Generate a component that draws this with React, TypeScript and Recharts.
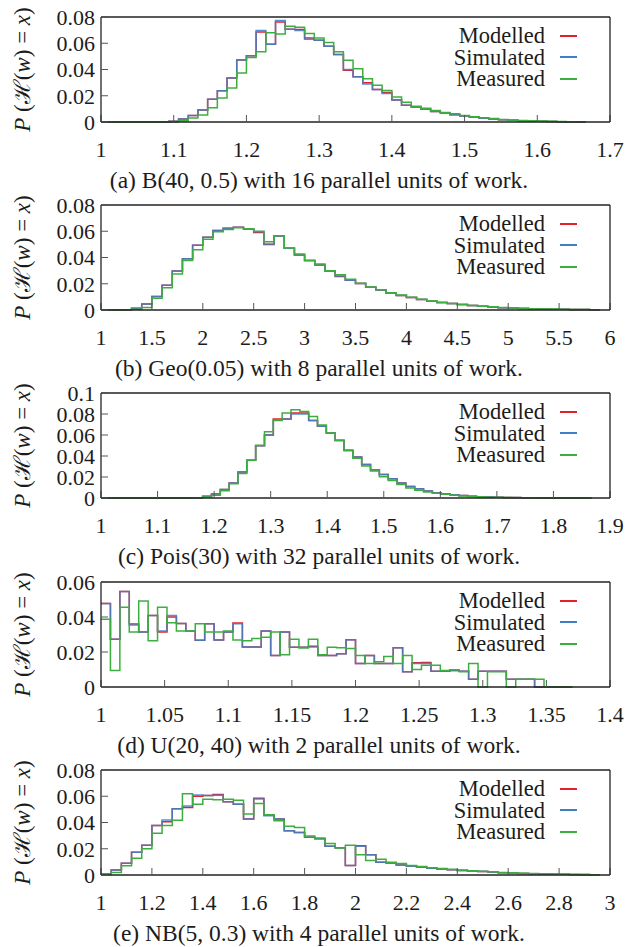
import { LineChart, Line, XAxis, YAxis, Legend } from 'recharts';

const FONT = "'Liberation Serif', 'DejaVu Serif', 'Times New Roman', Times, serif";
const INK = '#1c1c1c';
const RED = '#e3202b';
const BLUE = '#3f7fc6';
const GREEN = '#3cae3f';
const SERIES_ORDER = ['Modelled', 'Simulated', 'Measured'];

// (a) B(40, 0.5), 16 parallel units — bins of 1/75 starting at 1
const aBinStart = 1;
const aBinWidth = 1 / 75;
const aSimulated = [
  0, 0, 0, 0, 0, 0, 0, 0.0005, 0.0023, 0.0049, 0.0092, 0.0174, 0.0238, 0.0336, 0.0472, 0.0505,
  0.0697, 0.0592, 0.0774, 0.0706, 0.0698, 0.063, 0.0622, 0.0577, 0.0515, 0.04, 0.0345, 0.029,
  0.0248, 0.0218, 0.0168, 0.0128, 0.0115, 0.0098, 0.008, 0.0068, 0.0056, 0.0045, 0.0036, 0.0028,
  0.0022, 0.0017, 0.0013, 0.001, 0.0007, 0.0005, 0.0003, 0.0002, 0.0001, 0,
];
const aModelled = [
  0, 0, 0, 0, 0, 0, 0, 0.0005, 0.0023, 0.0049, 0.0092, 0.0174, 0.0238, 0.0336, 0.0472, 0.0505,
  0.0685, 0.0592, 0.0762, 0.0706, 0.0705, 0.064, 0.0622, 0.0577, 0.0515, 0.0395, 0.0345, 0.03,
  0.0248, 0.0225, 0.0168, 0.0128, 0.0115, 0.01, 0.008, 0.0068, 0.0056, 0.0045, 0.0036, 0.0028,
  0.0022, 0.0017, 0.0013, 0.001, 0.0007, 0.0005, 0.0003, 0.0002, 0.0001, 0,
];
const aMeasured = [
  0, 0, 0, 0, 0, 0, 0, 0, 0.001, 0.003, 0.0054, 0.0108, 0.0182, 0.026, 0.0374, 0.0492, 0.0536,
  0.068, 0.067, 0.073, 0.0722, 0.0675, 0.064, 0.0605, 0.0535, 0.047, 0.0405, 0.033, 0.028, 0.024,
  0.019, 0.015, 0.012, 0.0105, 0.0088, 0.0072, 0.0062, 0.005, 0.004, 0.0032, 0.0026, 0.002,
  0.0016, 0.0012, 0.0009, 0.0007, 0.0005, 0.0003, 0.0002, 0.0001,
];
const aXTicks = [1, 1.1, 1.2, 1.3, 1.4, 1.5, 1.6, 1.7];
const aYTicks = [0, 0.02, 0.04, 0.06, 0.08];

// (b) Geo(0.05), 8 parallel units — bins of 0.1
const bBinStart = 1;
const bBinWidth = 0.1;
const bSimulated = [
  0, 0, 0.0002, 0.0013, 0.0045, 0.0103, 0.0188, 0.0297, 0.039, 0.0493, 0.0555, 0.0606, 0.0622,
  0.063, 0.0617, 0.0596, 0.0503, 0.0563, 0.047, 0.042, 0.0377, 0.0343, 0.0297, 0.026, 0.0227,
  0.0201, 0.0173, 0.0152, 0.0129, 0.0111, 0.0095, 0.008, 0.0067, 0.0057, 0.0049, 0.0041, 0.0034,
  0.0028, 0.0023, 0.0018, 0.0015, 0.0012, 0.001, 0.0008, 0.0006, 0.0005, 0.0004, 0.0003, 0.0002,
];
const bModelled = [
  0, 0, 0.0002, 0.0013, 0.0045, 0.0103, 0.0188, 0.0297, 0.039, 0.0493, 0.0555, 0.0606, 0.0622,
  0.063, 0.0617, 0.059, 0.05, 0.0563, 0.047, 0.042, 0.0377, 0.0343, 0.0297, 0.0255, 0.0227,
  0.0201, 0.0173, 0.0152, 0.0129, 0.0111, 0.0095, 0.008, 0.0067, 0.0057, 0.0049, 0.0041, 0.0034,
  0.0028, 0.0023, 0.0018, 0.0015, 0.0012, 0.001, 0.0008, 0.0006, 0.0005, 0.0004, 0.0003, 0.0002,
];
const bMeasured = [
  0, 0, 0, 0.0005, 0.002, 0.009, 0.017, 0.0274, 0.0377, 0.046, 0.054, 0.0596, 0.0614, 0.0627,
  0.062, 0.06, 0.052, 0.0565, 0.0472, 0.0426, 0.0377, 0.035, 0.03, 0.0268, 0.0235, 0.0204,
  0.0175, 0.0155, 0.0132, 0.0114, 0.0098, 0.0082, 0.0069, 0.0058, 0.005, 0.0042, 0.0035, 0.0029,
  0.0024, 0.0019, 0.0016, 0.0013, 0.001, 0.0008, 0.0007, 0.0005, 0.0004, 0.0003, 0.0002,
];
const bXTicks = [1, 1.5, 2, 2.5, 3, 3.5, 4, 4.5, 5, 5.5, 6];
const bYTicks = [0, 0.02, 0.04, 0.06, 0.08];

// (c) Pois(30), 32 parallel units — bins of 1/64 centred on k/64
const cBinStart = 1 - 0.5 / 64;
const cBinWidth = 1 / 64;
const cSimulated = [
  0, 0, 0, 0, 0, 0, 0, 0, 0, 0, 0, 0.0003, 0.0016, 0.0038, 0.008, 0.0144, 0.0247, 0.0359, 0.0497,
  0.06, 0.0744, 0.0753, 0.08, 0.08, 0.0737, 0.0683, 0.0619, 0.0551, 0.0455, 0.0391, 0.032,
  0.0266, 0.0224, 0.0183, 0.0144, 0.0109, 0.0087, 0.0067, 0.0051, 0.004, 0.003, 0.0023, 0.0017,
  0.0013, 0.001, 0.0007, 0.0005, 0.0004, 0.0003, 0.0002, 0.0002, 0.0001, 0.0001, 0.0001, 0, 0,
];
const cModelled = [
  0, 0, 0, 0, 0, 0, 0, 0, 0, 0, 0, 0.0003, 0.0016, 0.0038, 0.008, 0.0144, 0.0247, 0.0359, 0.0497,
  0.06, 0.0753, 0.0753, 0.081, 0.081, 0.0737, 0.0683, 0.0619, 0.0551, 0.0455, 0.0391, 0.032,
  0.0266, 0.0224, 0.0183, 0.0144, 0.0109, 0.0087, 0.0067, 0.0051, 0.004, 0.003, 0.0023, 0.0017,
  0.0013, 0.001, 0.0007, 0.0005, 0.0004, 0.0003, 0.0002, 0.0002, 0.0001, 0.0001, 0.0001, 0, 0,
];
const cMeasured = [
  0, 0, 0, 0, 0, 0, 0, 0, 0, 0, 0, 0.0002, 0.001, 0.0026, 0.007, 0.0135, 0.0234, 0.0359, 0.0503,
  0.063, 0.0737, 0.081, 0.084, 0.0824, 0.0776, 0.0696, 0.0619, 0.0545, 0.0449, 0.0378, 0.0304,
  0.0256, 0.0202, 0.0167, 0.0128, 0.0096, 0.0074, 0.0058, 0.0045, 0.0035, 0.0026, 0.002, 0.0015,
  0.0011, 0.0008, 0.0006, 0.0004, 0.0003, 0.0002, 0.0002, 0.0001, 0.0001, 0.0001, 0, 0, 0,
];
const cXTicks = [1, 1.1, 1.2, 1.3, 1.4, 1.5, 1.6, 1.7, 1.8, 1.9];
const cYTicks = [0, 0.02, 0.04, 0.06, 0.08, 0.1];

// (d) U(20, 40), 2 parallel units — bins of 1/135
const dBinStart = 1;
const dBinWidth = 1 / 135;
const dSimulated = [
  0.0477, 0.0273, 0.0546, 0.0354, 0.0315, 0.0408, 0.032, 0.0408, 0.0363, 0.032, 0.0267, 0.0362,
  0.0269, 0.0315, 0.0362, 0.0229, 0.0229, 0.032, 0.018, 0.0315, 0.0227, 0.0227, 0.0229, 0.018,
  0.018, 0.019, 0.027, 0.0135, 0.018, 0.0135, 0.0135, 0.0225, 0.0087, 0.0135, 0.0135, 0.009,
  0.009, 0.0094, 0.009, 0.0045, 0.009, 0.009, 0.009, 0.0045, 0.0045, 0.0045, 0, 0, 0, 0,
];
const dModelled = [
  0.0477, 0.0273, 0.0546, 0.036, 0.0315, 0.0408, 0.0315, 0.04, 0.0363, 0.032, 0.0267, 0.0362,
  0.0269, 0.0315, 0.0366, 0.0229, 0.0229, 0.032, 0.018, 0.0315, 0.0227, 0.0227, 0.0233, 0.018,
  0.018, 0.019, 0.027, 0.0135, 0.018, 0.0135, 0.0135, 0.0225, 0.0087, 0.0138, 0.014, 0.009,
  0.009, 0.0094, 0.009, 0.0045, 0.009, 0.009, 0.009, 0.0045, 0.0045, 0.0045, 0, 0, 0, 0,
];
const dMeasured = [
  0.0387, 0.0094, 0.0456, 0.0315, 0.0492, 0.0265, 0.0456, 0.0367, 0.032, 0.032, 0.0362, 0.0315,
  0.0315, 0.032, 0.0269, 0.0265, 0.0277, 0.0285, 0.0315, 0.0185, 0.0273, 0.0223, 0.0273, 0.0185,
  0.0227, 0.0225, 0.022, 0.018, 0.0135, 0.0145, 0.0175, 0.0135, 0.018, 0.01, 0.0125, 0.0125,
  0.0094, 0.0098, 0.0087, 0.0135, 0, 0.0087, 0.0087, 0, 0.0045, 0.0045, 0.0045, 0, 0, 0,
];
const dXTicks = [1, 1.05, 1.1, 1.15, 1.2, 1.25, 1.3, 1.35, 1.4];
const dYTicks = [0, 0.02, 0.04, 0.06];

// (e) NB(5, 0.3), 4 parallel units — bins of 0.04
const eBinStart = 1;
const eBinWidth = 0.04;
const eSimulated = [
  0.0008, 0.0038, 0.009, 0.0174, 0.0226, 0.0377, 0.042, 0.0505, 0.0526, 0.061, 0.0605, 0.0608,
  0.0559, 0.054, 0.0426, 0.058, 0.0451, 0.0426, 0.0338, 0.0323, 0.0287, 0.0277, 0.022, 0.0208,
  0.0072, 0.022, 0.0154, 0.0097, 0.0092, 0.0077, 0.0067, 0.006, 0.0052, 0.0045, 0.004, 0.0035,
  0.003, 0.0026, 0.0022, 0.0018, 0.0015, 0.0012, 0.001, 0.0008, 0.0006, 0.0005, 0.0004, 0.0003,
  0.0002,
];
const eModelled = [
  0.0008, 0.0038, 0.009, 0.0174, 0.0226, 0.0377, 0.0405, 0.0505, 0.0515, 0.06, 0.0605, 0.0613,
  0.0559, 0.054, 0.0426, 0.0585, 0.0456, 0.0426, 0.0338, 0.0323, 0.0287, 0.0277, 0.022, 0.0208,
  0.0072, 0.0223, 0.0154, 0.0097, 0.0092, 0.0077, 0.0067, 0.006, 0.0052, 0.0045, 0.004, 0.0035,
  0.003, 0.0026, 0.0022, 0.0018, 0.0015, 0.0012, 0.001, 0.0008, 0.0006, 0.0005, 0.0004, 0.0003,
  0.0002,
];
const eMeasured = [
  0.0003, 0.002, 0.007, 0.0128, 0.02, 0.0318, 0.0377, 0.0418, 0.062, 0.054, 0.0577, 0.0574,
  0.0577, 0.057, 0.0464, 0.0544, 0.046, 0.0413, 0.0372, 0.0362, 0.0297, 0.0282, 0.024, 0.0205,
  0.0226, 0.0154, 0.011, 0.012, 0.0097, 0.0087, 0.0072, 0.0065, 0.0056, 0.005, 0.0044, 0.0038,
  0.0032, 0.0028, 0.0024, 0.002, 0.0017, 0.0014, 0.0011, 0.0009, 0.0007, 0.0005, 0.0004, 0.0002,
  0.0001,
];
const eXTicks = [1, 1.2, 1.4, 1.6, 1.8, 2, 2.2, 2.4, 2.6, 2.8, 3];
const eYTicks = [0, 0.02, 0.04, 0.06, 0.08];

const PLOT_H = 105;
const MARGIN_TOP = 16;

interface PanelProps {
  plotTop: number;
  binStart: number;
  binWidth: number;
  modelled: number[];
  simulated: number[];
  measured: number[];
  xDomain: [number, number];
  xTicks: number[];
  yDomain: [number, number];
  yTicks: number[];
  caption: string;
}

interface Row {
  x: number;
  modelled: number;
  simulated: number;
  measured: number;
}

// one row per bin edge; the closing edge repeats the last bin so stepAfter draws it
function buildRows(p: PanelProps): Row[] {
  const n = p.simulated.length;
  const rows: Row[] = [];
  for (let i = 0; i <= n; i++) {
    const j = Math.min(i, n - 1);
    rows.push({
      x: p.binStart + i * p.binWidth,
      modelled: p.modelled[j] ?? 0,
      simulated: p.simulated[j] ?? 0,
      measured: p.measured[j] ?? 0,
    });
  }
  return rows;
}

function YLabel(props: any) {
  const vb = props.viewBox ?? {};
  const cy = (vb.y ?? MARGIN_TOP + 1) + (vb.height ?? PLOT_H) / 2;
  return (
    <text
      x={22}
      y={cy}
      transform={`rotate(-90, 22, ${cy})`}
      textAnchor="middle"
      dominantBaseline="central"
      style={{ fontFamily: FONT }}
      fontSize={23}
      fill={INK}
    >
      <tspan fontStyle="italic">P</tspan>
      <tspan> (ℋ(</tspan>
      <tspan fontStyle="italic">w</tspan>
      <tspan>) = </tspan>
      <tspan fontStyle="italic">x</tspan>
      <tspan>)</tspan>
    </text>
  );
}

function renderLegend(props: any) {
  const items = [...(props.payload ?? [])].sort(
    (a: any, b: any) => SERIES_ORDER.indexOf(a.value) - SERIES_ORDER.indexOf(b.value),
  );
  return (
    <div style={{ fontFamily: FONT, fontSize: 22.5, color: INK }}>
      {items.map((it: any) => (
        <div
          key={it.value}
          style={{ display: 'flex', alignItems: 'center', justifyContent: 'flex-end', height: 21.5 }}
        >
          <div style={{ lineHeight: '21.5px', height: 21.5 }}>{it.value}</div>
          <div
            style={{
              width: 17,
              height: 0,
              borderTop: `2px solid ${it.color}`,
              marginLeft: 15,
            }}
          />
        </div>
      ))}
    </div>
  );
}

const tickStyle = { fontFamily: FONT, fontSize: 22, fill: INK, style: { fontFamily: FONT } };
const frame = { stroke: '#222', strokeWidth: 1.3 };
const tickMark = { stroke: '#555', strokeWidth: 1 };

function Panel(p: PanelProps) {
  const rows = buildRows(p);
  const fmt = (v: number) => String(v);
  return (
    <>
      <div style={{ position: 'absolute', left: 0, top: p.plotTop - MARGIN_TOP - 1 }}>
        <LineChart
          width={626}
          height={MARGIN_TOP + 1 + PLOT_H + 40}
          data={rows}
          margin={{ top: MARGIN_TOP, right: 15, bottom: 0, left: 41 }}
          style={{ fontFamily: FONT }}
        >
          <XAxis
            dataKey="x"
            type="number"
            domain={p.xDomain}
            ticks={p.xTicks}
            interval={0}
            allowDataOverflow
            height={40}
            tickFormatter={fmt}
            tick={tickStyle}
            tickSize={-7}
            tickMargin={26}
            axisLine={frame}
            tickLine={tickMark}
          />
          <XAxis
            xAxisId="top"
            orientation="top"
            type="number"
            domain={p.xDomain}
            ticks={p.xTicks}
            interval={0}
            allowDataOverflow
            height={1}
            tick={false}
            tickSize={-7}
            axisLine={frame}
            tickLine={tickMark}
          />
          <YAxis
            type="number"
            domain={p.yDomain}
            ticks={p.yTicks}
            interval={0}
            width={60}
            tickFormatter={fmt}
            tick={tickStyle}
            tickSize={-7}
            tickMargin={13}
            axisLine={frame}
            tickLine={tickMark}
            label={<YLabel />}
          />
          <YAxis
            yAxisId="right"
            orientation="right"
            type="number"
            domain={p.yDomain}
            ticks={p.yTicks}
            interval={0}
            width={1}
            tick={false}
            tickSize={-7}
            axisLine={frame}
            tickLine={tickMark}
          />
          <Legend
            layout="vertical"
            align="center"
            verticalAlign="middle"
            content={renderLegend}
            wrapperStyle={{ left: 360, top: 25, width: 217, right: 'auto', bottom: 'auto' }}
          />
          <Line
            type="stepAfter"
            dataKey="modelled"
            name="Modelled"
            stroke={RED}
            strokeWidth={1.5}
            dot={false}
            activeDot={false}
            isAnimationActive={false}
          />
          <Line
            type="stepAfter"
            dataKey="simulated"
            name="Simulated"
            stroke={BLUE}
            strokeOpacity={0.88}
            strokeWidth={1.5}
            dot={false}
            activeDot={false}
            isAnimationActive={false}
          />
          <Line
            type="stepAfter"
            dataKey="measured"
            name="Measured"
            stroke={GREEN}
            strokeWidth={1.5}
            dot={false}
            activeDot={false}
            isAnimationActive={false}
          />
        </LineChart>
      </div>
      <div
        style={{
          position: 'absolute',
          left: 0,
          width: 638,
          top: p.plotTop + PLOT_H + 58 - 14,
          height: 28,
          lineHeight: '28px',
          textAlign: 'center',
          fontFamily: FONT,
          fontSize: 23.5,
          color: INK,
          whiteSpace: 'nowrap',
        }}
      >
        {p.caption}
      </div>
    </>
  );
}

export default function App() {
  return (
    <div
      style={{
        position: 'absolute',
        left: 0,
        top: 0,
        width: 626,
        height: 947,
        background: '#fff',
        overflow: 'hidden',
        fontFamily: FONT,
      }}
    >
      <Panel
        plotTop={17}
        binStart={aBinStart}
        binWidth={aBinWidth}
        modelled={aModelled}
        simulated={aSimulated}
        measured={aMeasured}
        xDomain={[1, 1.7]}
        xTicks={aXTicks}
        yDomain={[0, 0.08]}
        yTicks={aYTicks}
        caption="(a) B(40, 0.5) with 16 parallel units of work."
      />
      <Panel
        plotTop={205}
        binStart={bBinStart}
        binWidth={bBinWidth}
        modelled={bModelled}
        simulated={bSimulated}
        measured={bMeasured}
        xDomain={[1, 6]}
        xTicks={bXTicks}
        yDomain={[0, 0.08]}
        yTicks={bYTicks}
        caption="(b) Geo(0.05) with 8 parallel units of work."
      />
      <Panel
        plotTop={393}
        binStart={cBinStart}
        binWidth={cBinWidth}
        modelled={cModelled}
        simulated={cSimulated}
        measured={cMeasured}
        xDomain={[1, 1.9]}
        xTicks={cXTicks}
        yDomain={[0, 0.1]}
        yTicks={cYTicks}
        caption="(c) Pois(30) with 32 parallel units of work."
      />
      <Panel
        plotTop={582}
        binStart={dBinStart}
        binWidth={dBinWidth}
        modelled={dModelled}
        simulated={dSimulated}
        measured={dMeasured}
        xDomain={[1, 1.4]}
        xTicks={dXTicks}
        yDomain={[0, 0.06]}
        yTicks={dYTicks}
        caption="(d) U(20, 40) with 2 parallel units of work."
      />
      <Panel
        plotTop={770}
        binStart={eBinStart}
        binWidth={eBinWidth}
        modelled={eModelled}
        simulated={eSimulated}
        measured={eMeasured}
        xDomain={[1, 3]}
        xTicks={eXTicks}
        yDomain={[0, 0.08]}
        yTicks={eYTicks}
        caption="(e) NB(5, 0.3) with 4 parallel units of work."
      />
    </div>
  );
}
